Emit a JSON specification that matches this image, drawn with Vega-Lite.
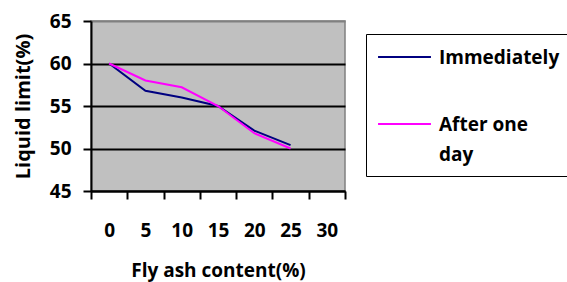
{
  "$schema": "https://vega.github.io/schema/vega-lite/v6.json",
  "autosize": "none",
  "width": 254,
  "height": 170,
  "padding": {"left": 91, "top": 21, "right": 222, "bottom": 91},
  "background": "white",
  "config": {
    "font": "Open Sans",
    "view": {"fill": "#C0C0C0", "stroke": "#808080", "strokeWidth": 1.5}
  },
  "data": {
    "values": [
      {"fly_ash": "0", "series": "Immediately", "ll": 60.0},
      {"fly_ash": "5", "series": "Immediately", "ll": 56.8},
      {"fly_ash": "10", "series": "Immediately", "ll": 56.0},
      {"fly_ash": "15", "series": "Immediately", "ll": 55.0},
      {"fly_ash": "20", "series": "Immediately", "ll": 52.1},
      {"fly_ash": "25", "series": "Immediately", "ll": 50.4},
      {"fly_ash": "0", "series": "After one day", "ll": 60.0},
      {"fly_ash": "5", "series": "After one day", "ll": 58.0},
      {"fly_ash": "10", "series": "After one day", "ll": 57.2},
      {"fly_ash": "15", "series": "After one day", "ll": 55.0},
      {"fly_ash": "20", "series": "After one day", "ll": 51.8},
      {"fly_ash": "25", "series": "After one day", "ll": 50.0}
    ]
  },
  "mark": {"type": "line", "strokeWidth": 2},
  "encoding": {
    "x": {
      "field": "fly_ash",
      "type": "ordinal",
      "sort": null,
      "scale": {"type": "band", "domain": ["0", "5", "10", "15", "20", "25", "30"], "paddingInner": 0, "paddingOuter": 0},
      "axis": {
        "title": "Fly ash content(%)",
        "labelAngle": 0,
        "tickBand": "extent",
        "tickSize": 8,
        "tickWidth": 2,
        "tickColor": "black",
        "domainColor": "black",
        "domainWidth": 2,
        "grid": false,
        "labelPadding": 22,
        "labelFontSize": 19,
        "labelFontWeight": "bold",
        "labelColor": "black",
        "titleFontSize": 19,
        "titleFontWeight": "bold",
        "titleColor": "black",
        "titlePadding": 21
      }
    },
    "y": {
      "field": "ll",
      "type": "quantitative",
      "scale": {"domain": [45, 65], "nice": false, "zero": false},
      "axis": {
        "title": "Liquid limit(%)",
        "values": [45, 50, 55, 60, 65],
        "tickSize": 8,
        "tickWidth": 2,
        "tickColor": "black",
        "domainColor": "black",
        "domainWidth": 2,
        "grid": true,
        "gridColor": {"condition": {"test": "datum.value == 65", "value": "#808080"}, "value": "black"},
        "gridWidth": 2,
        "labelPadding": 12,
        "labelFontSize": 19,
        "labelFontWeight": "bold",
        "labelColor": "black",
        "titleFontSize": 20,
        "titleFontWeight": "bold",
        "titleColor": "black",
        "titlePadding": 16
      }
    },
    "color": {
      "field": "series",
      "type": "nominal",
      "sort": null,
      "scale": {"domain": ["Immediately", "After one day"], "range": ["#000080", "#FF00FF"]},
      "legend": {
        "title": null,
        "orient": "none",
        "legendX": 275,
        "legendY": 13,
        "strokeColor": "black",
        "padding": 11,
        "symbolType": "stroke",
        "symbolSize": 2800,
        "symbolStrokeWidth": 2,
        "clipHeight": 24,
        "labelOffset": 7,
        "labelFontSize": 19,
        "labelFontWeight": "bold",
        "labelColor": "black",
        "labelBaseline": "alphabetic",
        "labelLimit": 400,
        "rowPadding": 43,
        "encode": {
          "labels": {
            "update": {
              "text": {"signal": "datum.label == 'After one day' ? ['After one', 'day'] : datum.label"},
              "lineHeight": {"value": 30},
              "dy": {"value": 7}
            }
          }
        }
      }
    }
  }
}
